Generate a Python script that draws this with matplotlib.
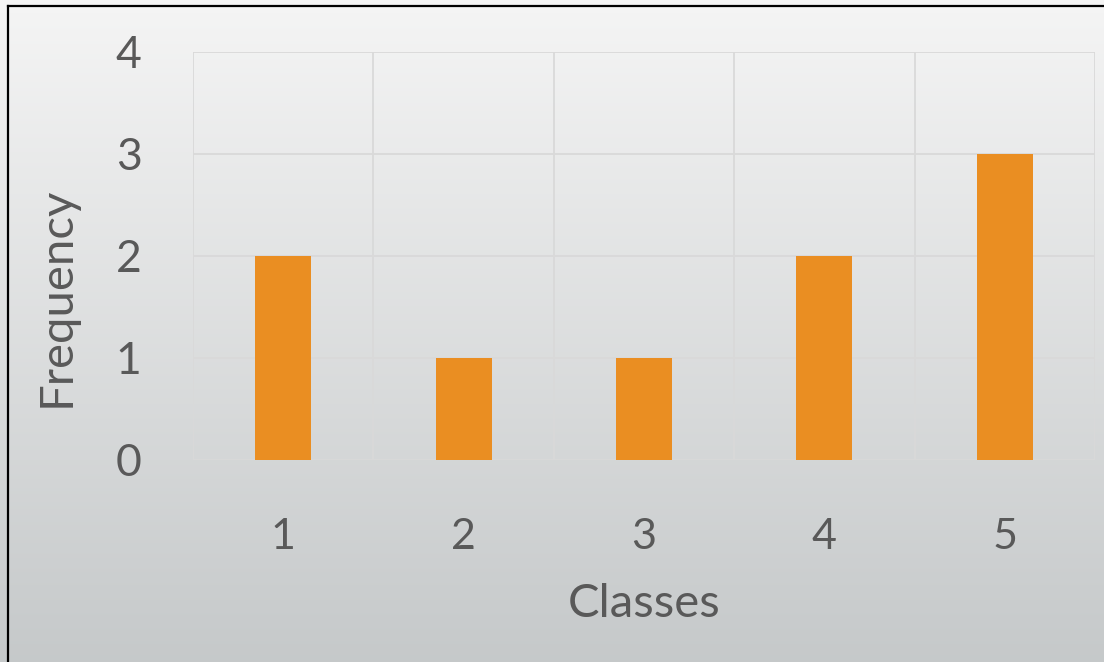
import numpy as np
import matplotlib.pyplot as plt
from matplotlib.lines import Line2D

classes = ['1', '2', '3', '4', '5']
frequency = [2, 1, 1, 2, 3]
y_ticks = [0, 1, 2, 3, 4]

plt.rcParams['font.family'] = ['Lato', 'DejaVu Sans']

fig = plt.figure(figsize=(11.04, 6.62), dpi=100)

# gradient backdrop over the whole figure
bg = fig.add_axes([0, 0, 1, 1])
grad = np.linspace(0, 1, 256).reshape(-1, 1)
top = np.array([0.96, 0.96, 0.96])
bot = np.array([0.775, 0.788, 0.792])
img = top + (bot - top) * grad[:, :, None]
bg.imshow(img, aspect='auto', extent=[0, 1, 0, 1], origin='upper')
bg.axis('off')

# frame lines (left and top only show in the crop)
fig.add_artist(Line2D([8 / 1104, 8 / 1104], [0, 1 - 6 / 662], color='black', lw=1.6))
fig.add_artist(Line2D([8 / 1104, 1], [1 - 6 / 662, 1 - 6 / 662], color='black', lw=1.6))

ax = fig.add_axes([193 / 1104, 1 - 460 / 662, 902 / 1104, 408 / 662])
ax.patch.set_alpha(0)
x = np.arange(len(classes))
ax.bar(x, frequency, width=0.31, color='#EA8E22', zorder=3)

ax.set_xlim(-0.5, len(classes) - 0.5)
ax.set_ylim(0, 4)
ax.set_yticks(y_ticks)
ax.set_xticks(x)
ax.set_xticklabels(classes)
ax.set_xticks(np.arange(len(classes) + 1) - 0.5, minor=True)

ax.grid(axis='y', which='major', color='#D9D9D9', lw=1.3, zorder=0)
ax.grid(axis='x', which='minor', color='#D9D9D9', lw=1.3, zorder=0)
ax.grid(axis='x', which='major', visible=False)
for s in ax.spines.values():
    s.set_visible(False)
ax.tick_params(which='both', length=0)
ax.tick_params(axis='y', labelsize=32, labelcolor='#595959', pad=37)
ax.tick_params(axis='x', labelsize=31, labelcolor='#595959', pad=42)

ax.set_xlabel('Classes', fontsize=34, color='#595959')
ax.set_ylabel('Frequency', fontsize=34, color='#595959')
ax.xaxis.label.set_va('center')
ax.yaxis.label.set_va('center')
ax.xaxis.set_label_coords((644 - 193) / 902, (460 - 604) / 408)
ax.yaxis.set_label_coords((57 - 193) / 902, (460 - 297) / 408)

fig.savefig('out.png', dpi=100)
